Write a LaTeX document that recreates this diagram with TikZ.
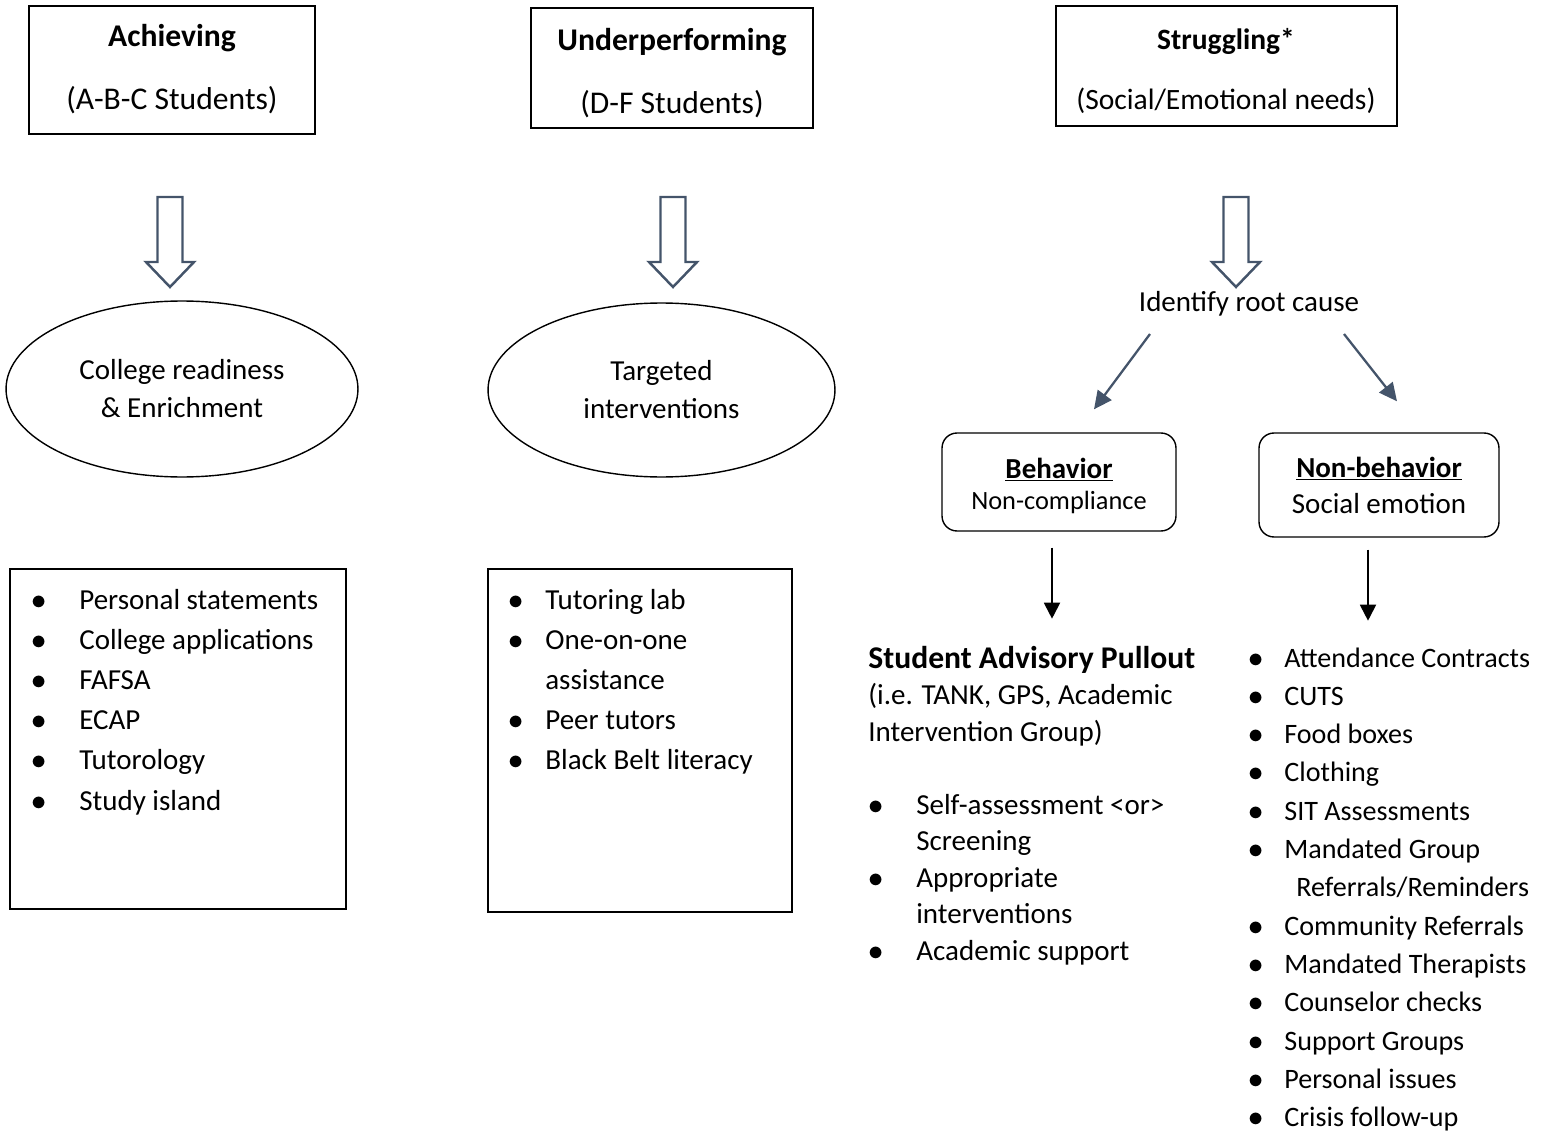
\documentclass[tikz,border=0pt]{standalone}
\usepackage{fontspec}
\setmainfont{Carlito}
\usetikzlibrary{positioning,shapes.geometric,arrows.meta,calc}
\definecolor{slate}{HTML}{44546A}
\newcommand{\bigsz}{\fontsize{18}{24}\selectfont}
\newcommand{\midsz}{\fontsize{16.5}{22.9}\selectfont}
\newcommand{\bul}{$\bullet$}

\begin{document}
\begin{tikzpicture}[x=0.02cm, y=-0.02cm]

% Styles
\tikzset{
    topbox/.style={rectangle, draw, line width=0.8pt, minimum height=2.4cm, inner sep=0pt},
    toptext/.style={align=center, font=\bigsz, inner sep=0pt},
    goal/.style={ellipse, draw, line width=0.8pt, inner sep=0pt, align=center, font=\fontsize{16.5}{21.6}\selectfont},
    kindbox/.style={rectangle, rounded corners=0.3cm, draw, line width=0.8pt, align=center, inner sep=0pt, font=\fontsize{16.5}{19}\selectfont},
    listbox/.style={rectangle, draw, line width=0.8pt, inner sep=0pt},
    items/.style={anchor=base west, inner sep=0pt, font=\midsz},
    hollow/.style={draw=slate, line width=1.4pt, line join=miter},
    slatearrow/.style={-{Triangle[length=0.36cm, width=0.34cm]}, slate, line width=1.3pt},
    blackarrow/.style={-{Triangle[length=0.32cm, width=0.32cm]}, line width=1.1pt}
}

\useasboundingbox (0,0) rectangle (1549,1132);

% Top boxes
\node[topbox, minimum width=5.72cm, minimum height=2.56cm] (ach) at (172,70) {};
\node[topbox, minimum width=5.64cm] (under) at (672,68) {};
\node[topbox, minimum width=6.82cm] (strug) at (1226.5,66) {};
\node[toptext] (achtxt) at (172,69) {\textbf{Achieving}\\[12pt](A-B-C Students)};
\node[toptext] (undertxt) at (672,73) {\textbf{Underperforming}\\[12pt](D-F Students)};
\node[toptext, font=\fontsize{16.8}{22.4}\selectfont] (strugtxt) at (1226,71) {\textbf{Struggling*}\\[11.8pt](Social/Emotional needs)};

% Hollow arrows
\foreach \x in {170,673,1236} {
    \draw[hollow] ({\x-12.5},197) -- ({\x+12.5},197) -- ({\x+12.5},262) -- ({\x+24},262) -- (\x,287) -- ({\x-24},262) -- ({\x-12.5},262) -- cycle;
}

% Ellipses
\node[goal, minimum width=7.04cm, minimum height=3.52cm] (college) at (182,389) {College readiness\\\& Enrichment};
\node[goal, minimum width=6.94cm, minimum height=3.48cm] (target) at (661.5,390) {Targeted\\interventions};

% Root cause
\node[font=\midsz, inner sep=0pt] (root) at (1249,304) {Identify root cause};
\node[kindbox, minimum width=4.68cm, minimum height=1.96cm] (beh) at (1059,482) {\rule{0pt}{16pt}\textbf{\underline{Behavior}}\\[-1pt]{\fontsize{15}{19}\selectfont Non-compliance}};
\node[kindbox, minimum width=4.8cm, minimum height=2.08cm] (nonbeh) at (1379,485) {\textbf{\underline{Non-behavior}}\\[1.5pt]Social emotion};

\draw[slatearrow] ($(root.center)+(-99,30)$) -- ($(beh.north)+(35,-23)$);
\draw[slatearrow] ($(root.center)+(95,30)$) -- ($(nonbeh.north)+(18,-31)$);
\draw[blackarrow] ($(beh.south)+(-7,16)$) -- ($(beh.south)+(-7,87)$);
\draw[blackarrow] ($(nonbeh.south)+(-11,12)$) -- ($(nonbeh.south)+(-11,83)$);

% Lists
\node[listbox, minimum width=6.72cm, minimum height=6.8cm] (achbox) at (178,739) {};
\node[items] (achlist) at (31,609) {\begin{tabular}[t]{@{}p{0.96cm}@{}l@{}}
\bul & Personal statements\\
\bul & College applications\\
\bul & FAFSA\\
\bul & ECAP\\
\bul & Tutorology\\
\bul & Study island
\end{tabular}};

\node[listbox, minimum width=6.08cm, minimum height=6.86cm] (underbox) at (640,740.5) {};
\node[items] (underlist) at (508,609) {\begin{tabular}[t]{@{}p{0.74cm}@{}l@{}}
\bul & Tutoring lab\\
\bul & One-on-one\\
     & assistance\\
\bul & Peer tutors\\
\bul & Black Belt literacy
\end{tabular}};

\node[items, font=\fontsize{16.5}{20.8}\selectfont] (pullout) at (868,668) {\begin{tabular}[t]{@{}p{0.96cm}@{}l@{}}
\multicolumn{2}{@{}l@{}}{\bigsz\textbf{Student Advisory Pullout}}\\
\multicolumn{2}{@{}l@{}}{(i.e. TANK, GPS, Academic}\\
\multicolumn{2}{@{}l@{}}{Intervention Group)}\\
 & \\
\bul & Self-assessment <or>\\
     & Screening\\
\bul & Appropriate\\
     & interventions\\
\bul & Academic support
\end{tabular}};

\node[items, font=\fontsize{16}{21.8}\selectfont] (support) at (1248,667) {\begin{tabular}[t]{@{}p{0.72cm}@{}l@{}}
\bul & Attendance Contracts\\
\bul & CUTS\\
\bul & Food boxes\\
\bul & Clothing\\
\bul & SIT Assessments\\
\bul & Mandated Group\\
     & \hspace{0.24cm}Referrals/Reminders\\
\bul & Community Referrals\\
\bul & Mandated Therapists\\
\bul & Counselor checks\\
\bul & Support Groups\\
\bul & Personal issues\\
\bul & Crisis follow-up
\end{tabular}};

\end{tikzpicture}
\end{document}
